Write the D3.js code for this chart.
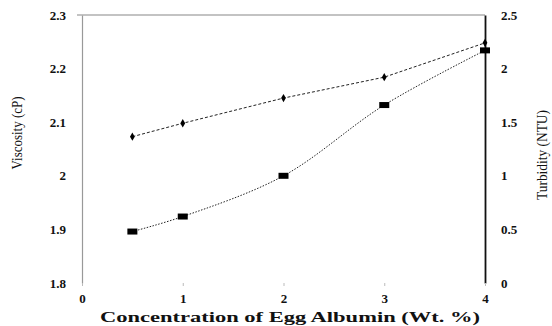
<!DOCTYPE html>
<html>
<head>
<meta charset="utf-8">
<script src="https://cdn.jsdelivr.net/npm/d3@7"></script>
<style>
  body { margin: 0; background: #fff; }
  text { font-family: "Liberation Serif", "Times New Roman", serif; fill: #111; }
</style>
</head>
<body>
<div id="chart"></div>
<script>
// values
const concentration = [0.5, 1, 2, 3, 4];
const viscosity = [2.073, 2.098, 2.145, 2.184, 2.248];
const turbidity = [0.48, 0.62, 1.0, 1.66, 2.17];
const xTicks = [0, 1, 2, 3, 4];
const viscTicks = [1.8, 1.9, 2, 2.1, 2.2, 2.3];
const turbTicks = [0, 0.5, 1, 1.5, 2, 2.5];

const width = 552;
const height = 326;
const margin = { top: 15, right: 67, bottom: 43, left: 82 };

const svg = d3
  .select("#chart")
  .append("svg")
  .attr("width", width)
  .attr("height", height);

const x = d3.scaleLinear().domain([0, 4]).range([margin.left, width - margin.right]);
const yL = d3.scaleLinear().domain([1.8, 2.3]).range([height - margin.bottom, margin.top]);
const yR = d3.scaleLinear().domain([0, 2.5]).range([height - margin.bottom, margin.top]);

// top border
svg
  .append("line")
  .attr("x1", margin.left - 5)
  .attr("x2", width - margin.right)
  .attr("y1", margin.top)
  .attr("y2", margin.top)
  .attr("stroke", "#888")
  .attr("stroke-width", 1.2);

// left axis (viscosity)
const gL = svg
  .append("g")
  .attr("transform", `translate(${margin.left},0)`)
  .call(d3.axisLeft(yL).tickValues(viscTicks).tickSize(0).tickPadding(16).tickFormat(d3.format("")));
gL.select(".domain").attr("stroke", "#999").attr("stroke-width", 1.2);
gL.selectAll("text").style("font-size", "13px").style("font-weight", "bold");

// right axis (turbidity)
const gR = svg
  .append("g")
  .attr("transform", `translate(${width - margin.right},0)`)
  .call(d3.axisRight(yR).tickValues(turbTicks).tickSize(0).tickPadding(16).tickFormat(d3.format("")));
gR.select(".domain").attr("stroke", "#111").attr("stroke-width", 1.8);
gR.selectAll("text").style("font-size", "13px").style("font-weight", "bold");

// bottom axis, labels only
const gB = svg
  .append("g")
  .attr("transform", `translate(0,${height - margin.bottom})`)
  .call(d3.axisBottom(x).tickValues(xTicks).tickSize(3).tickPadding(8).tickFormat(d3.format("d")));
gB.select(".domain").remove();
gB.selectAll(".tick line").attr("stroke", "#bbb");
gB.selectAll("text").style("font-size", "13px").style("font-weight", "bold");

// axis titles
svg
  .append("text")
  .attr("transform", `translate(22,133) rotate(-90)`)
  .attr("text-anchor", "middle")
  .attr("textLength", 73)
  .attr("lengthAdjust", "spacingAndGlyphs")
  .style("font-size", "15px")
  .text("Viscosity (cP)");

svg
  .append("text")
  .attr("transform", `translate(535,155) rotate(-90)`)
  .attr("text-anchor", "middle")
  .attr("dy", "0.8em")
  .attr("textLength", 90)
  .attr("lengthAdjust", "spacingAndGlyphs")
  .style("font-size", "15px")
  .text("Turbidity (NTU)");

svg
  .append("text")
  .attr("x", 100)
  .attr("y", 322)
  .attr("textLength", 380)
  .attr("lengthAdjust", "spacingAndGlyphs")
  .style("font-size", "14px")
  .style("font-weight", "bold")
  .text("Concentration of Egg Albumin (Wt. %)");

// viscosity series
const viscData = concentration.map((c, i) => ({ c, v: viscosity[i] }));
svg
  .append("path")
  .datum(viscData)
  .attr("fill", "none")
  .attr("stroke", "#222")
  .attr("stroke-width", 1)
  .attr("stroke-dasharray", "3,2")
  .attr("d", d3.line().x((d) => x(d.c)).y((d) => yL(d.v)));

svg
  .append("g")
  .selectAll("path")
  .data(viscData)
  .enter()
  .append("path")
  .attr("transform", (d) => `translate(${x(d.c)},${yL(d.v)})`)
  .attr("d", d3.symbol(d3.symbolDiamond, 20))
  .attr("fill", "#000");

// turbidity series
const turbData = concentration.map((c, i) => ({ c, v: turbidity[i] }));
svg
  .append("path")
  .datum(turbData)
  .attr("fill", "none")
  .attr("stroke", "#222")
  .attr("stroke-width", 1)
  .attr("stroke-dasharray", "1.5,1.5")
  .attr("d", d3.line().curve(d3.curveCatmullRom).x((d) => x(d.c)).y((d) => yR(d.v)));

svg
  .append("g")
  .selectAll("rect")
  .data(turbData)
  .enter()
  .append("rect")
  .attr("x", (d) => x(d.c) - 5)
  .attr("y", (d) => yR(d.v) - 3)
  .attr("width", 10)
  .attr("height", 6)
  .attr("fill", "#000");
</script>
</body>
</html>
